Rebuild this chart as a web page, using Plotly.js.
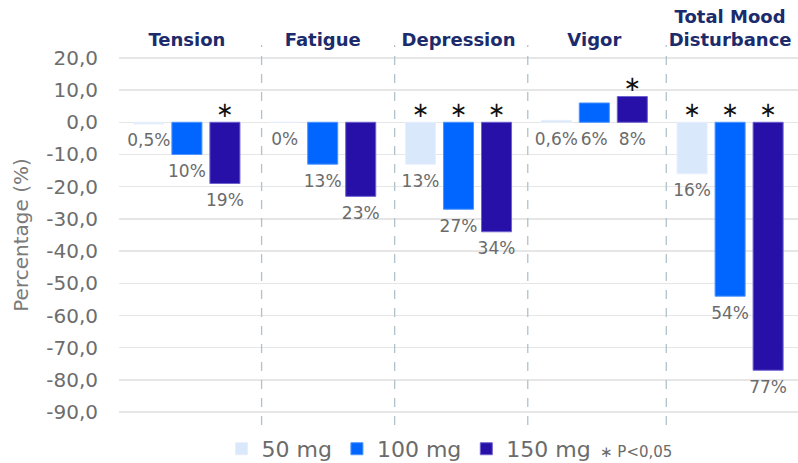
<!DOCTYPE html>
<html>
<head>
<meta charset="utf-8">
<script src="https://cdn.plot.ly/plotly-3.0.1.min.js"></script>
<style>html,body{margin:0;padding:0;background:#fff;}#chart{width:798px;height:463px;}</style>
</head>
<body>
<div id="chart"></div>
<script>
var categories = ['Tension', 'Fatigue', 'Depression', 'Vigor', 'Total Mood<br>Disturbance'];
var seriesNames = ['50 mg', '100 mg', '150 mg'];
var values50 = [-0.5, 0, -13, 0.6, -16];
var values100 = [-10, -13, -27, 6, -54];
var values150 = [-19, -23, -34, 8, -77];
var labels50 = ['0,5%', '0%', '13%', '0,6%', '16%'];
var labels100 = ['10%', '13%', '27%', '6%', '54%'];
var labels150 = ['19%', '23%', '34%', '8%', '77%'];
var signif50 = [false, false, true, false, true];
var signif100 = [false, false, true, false, true];
var signif150 = [true, false, true, true, true];
var yTicks = [20, 10, 0, -10, -20, -30, -40, -50, -60, -70, -80, -90];
var yTickLabels = ['20,0', '10,0', '0,0', '-10,0', '-20,0', '-30,0', '-40,0', '-50,0', '-60,0', '-70,0', '-80,0', '-90,0'];
var noteText = '∗ P<0,05';

var colors = ['#dae8fc', '#0066ff', '#2610a8'];
var lineColors = ['#e6effc', '#4d94ff', '#6d62cf'];
var groups = ['g50', 'g100', 'g150'];
var allValues = [values50, values100, values150];
var allLabels = [labels50, labels100, labels150];
var allSignif = [signif50, signif100, signif150];

var traces = [];
for (var s = 0; s < 3; s++) {
  traces.push({
    type: 'bar', name: seriesNames[s], x: categories, y: allValues[s],
    offsetgroup: groups[s],
    marker: {color: colors[s], line: {color: lineColors[s], width: 1}},
    hoverinfo: 'skip'
  });
}
for (var s = 0; s < 3; s++) {
  traces.push({
    type: 'scatter', mode: 'markers+text', x: categories,
    y: allValues[s].map(function (v) { return Math.min(v, 0); }),
    text: allLabels[s], textposition: 'bottom center',
    marker: {size: 14, color: 'rgba(0,0,0,0)'},
    textfont: {family: 'DejaVu Sans', size: 17, color: '#6b6b6b'},
    offsetgroup: groups[s], showlegend: false, hoverinfo: 'skip', cliponaxis: false
  });
  traces.push({
    type: 'scatter', mode: 'text', x: categories,
    y: allValues[s].map(function (v) { return Math.max(v, 0); }),
    text: allSignif[s].map(function (f) { return f ? '∗' : ''; }),
    textposition: 'top center',
    textfont: {family: 'DejaVu Sans', size: 21, color: '#111111'},
    offsetgroup: groups[s], showlegend: false, hoverinfo: 'skip', cliponaxis: false
  });
}

var shapes = [];
[0.55, 1.53, 2.51, 3.53].forEach(function (xv) {
  shapes.push({type: 'line', xref: 'x', yref: 'paper', x0: xv, x1: xv, y0: 0, y1: 1,
    line: {color: '#b0c2cb', width: 1.3, dash: 'dash'}});
});

var layout = {
  width: 798, height: 463,
  margin: {l: 119, r: 0, t: 45, b: 38, autoexpand: false},
  paper_bgcolor: '#ffffff', plot_bgcolor: '#ffffff',
  barmode: 'group', bargap: 0.16, bargroupgap: 0.21,
  scattermode: 'group', scattergap: 0.16,
  separators: ',.',
  font: {family: 'DejaVu Sans', color: '#6b6b6b'},
  xaxis: {
    side: 'top', showgrid: false, zeroline: false, showline: false, ticks: '',
    tickfont: {family: 'DejaVu Sans', size: 18, color: '#1b2b6b', weight: 'bold'},
    ticklabelstandoff: -6, fixedrange: true
  },
  yaxis: {
    range: [-94, 24], tickvals: yTicks, ticktext: yTickLabels,
    tickfont: {family: 'DejaVu Sans', size: 20, color: '#6d6d6d'},
    ticks: '', ticklabelstandoff: 20,
    showgrid: true, gridcolor: '#e6e6e6', gridwidth: 1.5,
    zeroline: true, zerolinecolor: '#e6e6e6', zerolinewidth: 1.5,
    showline: false,
    title: {text: 'Percentage (%)', font: {family: 'DejaVu Sans', size: 20, color: '#7a7a7a'}, standoff: 12},
    fixedrange: true
  },
  showlegend: true,
  legend: {
    orientation: 'h', x: 0.151, xanchor: 'left', y: -0.063, yanchor: 'middle',
    font: {family: 'DejaVu Sans', size: 22, color: '#6b6b6b'},
    traceorder: 'normal', itemclick: false, itemdoubleclick: false
  },
  shapes: shapes,
  annotations: [{
    xref: 'paper', yref: 'paper', x: (598 - 119) / 679, y: -0.07, xanchor: 'left', yanchor: 'middle',
    text: noteText, showarrow: false, font: {family: 'DejaVu Sans', size: 15, color: '#6b6b6b'}
  }]
};

Plotly.newPlot('chart', traces, layout, {displayModeBar: false, staticPlot: true});
</script>
</body>
</html>
